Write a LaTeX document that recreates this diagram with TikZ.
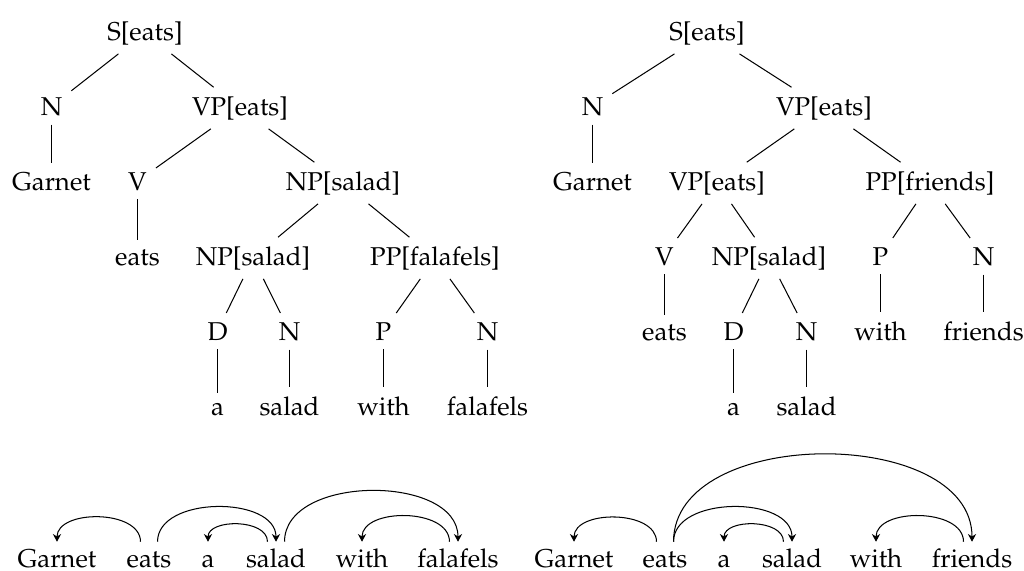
\documentclass[tikz,border=0pt]{standalone}
\usepackage[T1]{fontenc}
\usepackage{mathpazo}
\usetikzlibrary{arrows.meta}

\tikzset{
  cat/.style={anchor=base},
  word/.style={anchor=base,inner ysep=0pt,text height=9.6pt,text depth=0pt},
  dep/.style={-{Stealth[length=3pt,width=3.2pt]}},
}

\begin{document}
\begin{tikzpicture}[x=0.3876pt,y=0.3876pt]
  \useasboundingbox (0,0) rectangle (1024,-570);

  % tree: with falafels
  \node[cat] (lS) at (145,-40) {S[eats]};
  \node[cat] (lN) at (51.5,-115) {N};
  \node[cat] (lVP) at (240,-115) {VP[eats]};
  \node[cat] (lGarnet) at (51.5,-190) {Garnet};
  \node[cat] (lV) at (137.5,-190) {V};
  \node[cat] (lNP) at (343,-190) {NP[salad]};
  \node[cat] (leats) at (137.5,-265) {eats};
  \node[cat] (lNPs) at (253,-265) {NP[salad]};
  \node[cat] (lPP) at (435,-265) {PP[falafels]};
  \node[cat] (lD) at (217.5,-340) {D};
  \node[cat] (lNs) at (289.5,-340) {N};
  \node[cat] (lP) at (383.5,-340) {P};
  \node[cat] (lNf) at (487.5,-340) {N};
  \node[cat] (la) at (217.5,-415) {a};
  \node[cat] (lsalad) at (289.5,-415) {salad};
  \node[cat] (lwith) at (383.5,-415) {with};
  \node[cat] (lfalafels) at (487.5,-415) {falafels};
  \draw (lS) -- (lN);
  \draw (lS) -- (lVP);
  \draw (lN) -- (lGarnet);
  \draw (lVP) -- (lV);
  \draw (lVP) -- (lNP);
  \draw (lV) -- (leats);
  \draw (lNP) -- (lNPs);
  \draw (lNP) -- (lPP);
  \draw (lNPs) -- (lD);
  \draw (lNPs) -- (lNs);
  \draw (lPP) -- (lP);
  \draw (lPP) -- (lNf);
  \draw (lD) -- (la);
  \draw (lNs) -- (lsalad);
  \draw (lP) -- (lwith);
  \draw (lNf) -- (lfalafels);

  % tree: with friends
  \node[cat] (rS) at (707,-40) {S[eats]};
  \node[cat] (rN) at (592.5,-115) {N};
  \node[cat] (rVP) at (824,-115) {VP[eats]};
  \node[cat] (rGarnet) at (592.5,-190) {Garnet};
  \node[cat] (rVPe) at (717,-190) {VP[eats]};
  \node[cat] (rPP) at (930,-190) {PP[friends]};
  \node[cat] (rV) at (664.5,-265) {V};
  \node[cat] (rNP) at (769,-265) {NP[salad]};
  \node[cat] (rP) at (880.5,-265) {P};
  \node[cat] (rNf) at (983.5,-265) {N};
  \node[cat] (reats) at (664.5,-340) {eats};
  \node[cat] (rD) at (733.5,-340) {D};
  \node[cat] (rNs) at (806.5,-340) {N};
  \node[cat] (rwith) at (880.5,-340) {with};
  \node[cat] (rfriends) at (983.5,-340) {friends};
  \node[cat] (ra) at (733.5,-415) {a};
  \node[cat] (rsalad) at (806.5,-415) {salad};
  \draw (rS) -- (rN);
  \draw (rS) -- (rVP);
  \draw (rN) -- (rGarnet);
  \draw (rVP) -- (rVPe);
  \draw (rVP) -- (rPP);
  \draw (rVPe) -- (rV);
  \draw (rVPe) -- (rNP);
  \draw (rPP) -- (rP);
  \draw (rPP) -- (rNf);
  \draw (rV) -- (reats);
  \draw (rNP) -- (rD);
  \draw (rNP) -- (rNs);
  \draw (rP) -- (rwith);
  \draw (rNf) -- (rfriends);
  \draw (rD) -- (ra);
  \draw (rNs) -- (rsalad);

  % dependencies
  \node[word] (dlGarnet) at (57,-567) {Garnet};
  \node[word] (dleats) at (149,-567) {eats};
  \node[word] (dla) at (208,-567) {a};
  \node[word] (dlsalad) at (276,-567) {salad};
  \node[word] (dlwith) at (362,-567) {with};
  \node[word] (dlfalafels) at (458,-567) {falafels};
  \draw[dep] ([xshift=-3.3pt]dleats.north) to[out=90,in=90] (dlGarnet.north);
  \draw[dep] ([xshift=3.3pt]dleats.north) to[out=90,in=90] (dlsalad.north);
  \draw[dep] ([xshift=-3.3pt]dlsalad.north) to[out=90,in=90] (dla.north);
  \draw[dep] ([xshift=3.3pt]dlsalad.north) to[out=90,in=90] (dlfalafels.north);
  \draw[dep] ([xshift=-3.3pt]dlfalafels.north) to[out=90,in=90] (dlwith.north);

  \node[word] (drGarnet) at (574,-567) {Garnet};
  \node[word] (dreats) at (665,-567) {eats};
  \node[word] (dra) at (724,-567) {a};
  \node[word] (drsalad) at (792,-567) {salad};
  \node[word] (drwith) at (876,-567) {with};
  \node[word] (drfriends) at (972,-567) {friends};
  \draw[dep] ([xshift=-3.3pt]dreats.north) to[out=90,in=90] (drGarnet.north);
  \draw[dep] ([xshift=3.3pt]dreats.north) to[out=90,in=90] (drsalad.north);
  \draw[dep] ([xshift=3.3pt]dreats.north) to[out=90,in=90] (drfriends.north);
  \draw[dep] ([xshift=-3.3pt]drsalad.north) to[out=90,in=90] (dra.north);
  \draw[dep] ([xshift=-3.3pt]drfriends.north) to[out=90,in=90] (drwith.north);
\end{tikzpicture}
\end{document}
